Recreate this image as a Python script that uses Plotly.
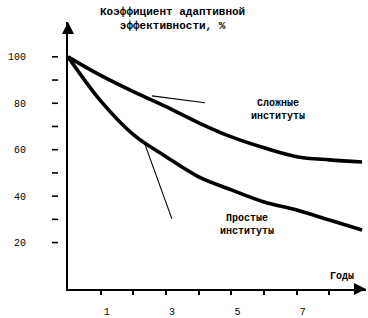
import plotly.graph_objects as go

years = [0, 1, 2, 3, 4, 5, 6, 7, 8, 9]
complex_inst = [100, 92, 85, 78.5, 71.6, 65.5, 60.8, 57, 55.6, 54.7]
simple_inst = [100, 81, 66.5, 57, 48.3, 42.7, 37.5, 34, 29.7, 25.4]

complex_ptr_x = [2.57, 4.19]
complex_ptr_y = [83.2, 80.2]
simple_ptr_x = [2.35, 3.18]
simple_ptr_y = [62.5, 30.2]

y_label_vals = [20, 40, 60, 80, 100]
y_dash_vals = [20, 30, 40, 50, 60, 70, 80, 90, 100]
x_tick_vals = [1, 2, 3, 4, 5, 6, 7, 8]
x_tick_text = ["1", "", "3", "", "5", "", "7", ""]

title_text = "Коэффициент адаптивной<br>эффективности, %"
complex_label = "Сложные<br>институты"
simple_label = "Простые<br>институты"
x_title = "Годы"

X_MAX = 9.12
Y_MAX = 115
FONT = "Liberation Mono"

fig = go.Figure()

for vals in (complex_inst, simple_inst):
    fig.add_trace(go.Scatter(x=years, y=vals, mode="lines",
                             line=dict(color="black", width=3.6, shape="spline", smoothing=1.0),
                             showlegend=False, hoverinfo="skip"))
for px_, py_ in ((complex_ptr_x, complex_ptr_y), (simple_ptr_x, simple_ptr_y)):
    fig.add_trace(go.Scatter(x=px_, y=py_, mode="lines",
                             line=dict(color="black", width=1.1),
                             showlegend=False, hoverinfo="skip"))

# detached y-axis dashes (left of the axis line)
shapes = [dict(type="line", xref="paper", xsizemode="pixel", xanchor=0, x0=-16, x1=-10,
               yref="paper", y0=v / Y_MAX, y1=v / Y_MAX, line=dict(color="black", width=1.6))
          for v in y_dash_vals]

annotations = [
    dict(x=0.35, y=1.01, xref="paper", yref="paper", text=title_text, showarrow=False,
         font=dict(family=FONT, size=11, color="black", weight="bold"),
         xanchor="center", yanchor="middle"),
    dict(x=6.42, y=77, xref="x", yref="y", text=complex_label, showarrow=False,
         font=dict(family=FONT, size=10, color="black", weight="bold"),
         xanchor="center", yanchor="middle"),
    dict(x=5.47, y=27.6, xref="x", yref="y", text=simple_label, showarrow=False,
         font=dict(family=FONT, size=10, color="black", weight="bold"),
         xanchor="center", yanchor="middle"),
    dict(x=8.38, y=5.6, xref="x", yref="y", text=x_title, showarrow=False,
         font=dict(family=FONT, size=10, color="black", weight="bold"),
         xanchor="center", yanchor="middle"),
    # y-axis arrow
    dict(x=0, y=Y_MAX, xref="x", yref="y", ax=0, ay=12, text="", showarrow=True,
         arrowhead=2, arrowsize=1.2, arrowwidth=2, arrowcolor="black"),
    # x-axis arrow
    dict(x=X_MAX, y=0, xref="x", yref="y", ax=-12, ay=0, text="", showarrow=True,
         arrowhead=2, arrowsize=1.2, arrowwidth=2, arrowcolor="black"),
]

fig.update_layout(
    width=368, height=318,
    margin=dict(l=68, r=2, t=22, b=29),
    paper_bgcolor="white", plot_bgcolor="white",
    annotations=annotations, shapes=shapes,
    xaxis=dict(range=[0, X_MAX], showgrid=False, zeroline=False, automargin=False,
               showline=True, linecolor="black", linewidth=2,
               tickmode="array", tickvals=x_tick_vals, ticktext=x_tick_text,
               ticks="outside", ticklen=4, tickwidth=1.5, tickcolor="black",
               ticklabelstandoff=8, ticklabelshift=6,
               tickfont=dict(family=FONT, size=10, color="black")),
    yaxis=dict(range=[0, Y_MAX], showgrid=False, zeroline=False, automargin=False,
               showline=True, linecolor="black", linewidth=2,
               tickmode="array", tickvals=y_label_vals,
               ticks="", ticklabelstandoff=38,
               tickfont=dict(family=FONT, size=10, color="black")),
)

fig.write_html("out.html", config={"displayModeBar": False},
               post_script="document.body.style.margin='0';")
